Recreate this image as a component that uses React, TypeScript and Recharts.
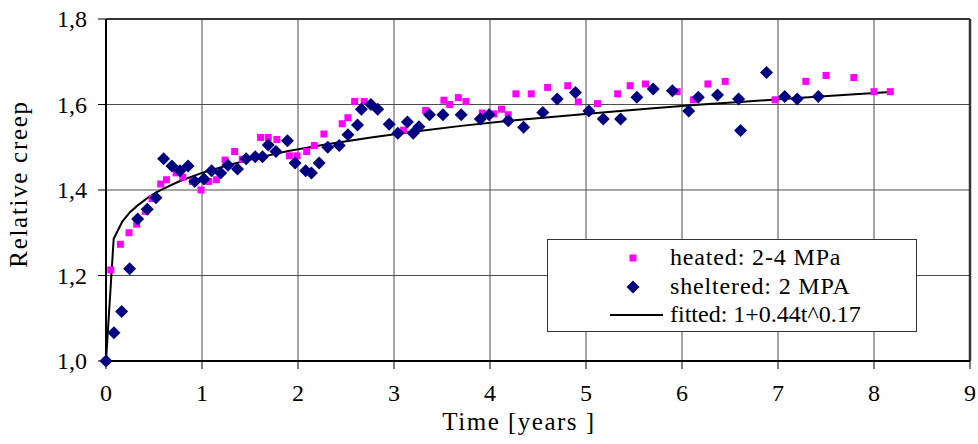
import { ComposedChart, Scatter, Line, XAxis, YAxis, CartesianGrid, ReferenceLine, Label } from 'recharts';

// heated: 2-4 MPa (magenta squares)
const heatedT = [0, 0.05, 0.15, 0.24, 0.32, 0.41, 0.48, 0.57, 0.63, 0.73, 0.8, 0.9, 0.99, 1.07, 1.15, 1.24, 1.34, 1.42, 1.61, 1.69, 1.78, 1.91, 1.99, 2.09, 2.17, 2.27, 2.46, 2.52, 2.59, 2.69, 3.1, 3.33, 3.52, 3.58, 3.67, 3.75, 3.92, 4.04, 4.12, 4.19, 4.27, 4.43, 4.6, 4.81, 4.92, 5.12, 5.33, 5.46, 5.62, 5.95, 6.12, 6.27, 6.45, 6.97, 7.29, 7.5, 7.79, 8.0, 8.17];
const heatedV = [1.0, 1.213, 1.273, 1.3, 1.32, 1.35, 1.38, 1.414, 1.424, 1.44, 1.43, 1.42, 1.4, 1.42, 1.424, 1.47, 1.49, 1.472, 1.523, 1.523, 1.518, 1.48, 1.48, 1.49, 1.504, 1.531, 1.555, 1.569, 1.607, 1.607, 1.54, 1.586, 1.61, 1.6, 1.616, 1.607, 1.58, 1.578, 1.589, 1.576, 1.625, 1.625, 1.64, 1.644, 1.606, 1.602, 1.625, 1.644, 1.648, 1.63, 1.611, 1.648, 1.654, 1.611, 1.654, 1.668, 1.663, 1.63, 1.63];

// sheltered: 2 MPA (navy diamonds)
const shelteredT = [0, 0.083, 0.163, 0.246, 0.33, 0.43, 0.52, 0.6, 0.686, 0.77, 0.855, 0.925, 1.02, 1.1, 1.195, 1.27, 1.37, 1.46, 1.555, 1.63, 1.69, 1.77, 1.89, 1.97, 2.08, 2.14, 2.22, 2.31, 2.43, 2.52, 2.62, 2.66, 2.76, 2.83, 2.95, 3.04, 3.14, 3.2, 3.26, 3.37, 3.51, 3.7, 3.9, 3.99, 4.19, 4.35, 4.55, 4.7, 4.89, 5.03, 5.18, 5.36, 5.53, 5.7, 5.9, 6.07, 6.17, 6.37, 6.59, 6.61, 6.88, 7.07, 7.2, 7.42];
const shelteredV = [1.0, 1.066, 1.116, 1.216, 1.332, 1.355, 1.382, 1.473, 1.456, 1.445, 1.456, 1.42, 1.426, 1.445, 1.44, 1.458, 1.449, 1.473, 1.478, 1.478, 1.505, 1.49, 1.515, 1.463, 1.445, 1.44, 1.463, 1.5, 1.504, 1.529, 1.552, 1.589, 1.6, 1.589, 1.554, 1.533, 1.559, 1.533, 1.548, 1.576, 1.576, 1.576, 1.566, 1.576, 1.562, 1.547, 1.581, 1.613, 1.628, 1.585, 1.566, 1.566, 1.617, 1.636, 1.632, 1.585, 1.617, 1.622, 1.613, 1.539, 1.675, 1.619, 1.613, 1.619];

// fitted: 1+0.44t^0.17
const fittedT = [0, 0.08, 0.17, 0.25, 0.33, 0.43, 0.52, 0.6, 0.77, 1.0, 1.27, 1.55, 1.9, 2.3, 2.76, 3.2, 3.7, 4.2, 4.7, 5.2, 5.7, 6.2, 6.6, 7.2, 7.8, 8.17];
const fittedV = [1.0, 1.286, 1.326, 1.348, 1.364, 1.381, 1.394, 1.403, 1.421, 1.44, 1.458, 1.474, 1.491, 1.507, 1.523, 1.536, 1.55, 1.562, 1.572, 1.582, 1.591, 1.6, 1.606, 1.615, 1.624, 1.629];

const xTicks = [0, 1, 2, 3, 4, 5, 6, 7, 8, 9];
const yTicks = [1.0, 1.2, 1.4, 1.6, 1.8];

const heated = heatedT.map((t, i) => ({ t, v: heatedV[i] }));
const sheltered = shelteredT.map((t, i) => ({ t, v: shelteredV[i] }));
const fitted = fittedT.map((t, i) => ({ t, v: fittedV[i] }));

const FONT = "'Liberation Serif', 'Times New Roman', serif";

const Square = (props: any) => {
  const { cx, cy } = props;
  return <rect x={cx - 3.5} y={cy - 3.5} width={7} height={7} fill="#FF00FF" />;
};

const Diamond = (props: any) => {
  const { cx, cy } = props;
  const r = 6.5;
  return <polygon points={`${cx},${cy - r} ${cx + r},${cy} ${cx},${cy + r} ${cx - r},${cy}`} fill="#000080" />;
};

const XTick = (props: any) => {
  const { x, y, payload } = props;
  return (
    <text x={x} y={y} dy={32} textAnchor="middle" fontSize={24} fontFamily={FONT} fill="#000">
      {payload.value}
    </text>
  );
};

const YTick = (props: any) => {
  const { x, y, payload } = props;
  return (
    <text x={x} y={y} dy={8} textAnchor="end" fontSize={24} fontFamily={FONT} fill="#000">
      {Number(payload.value).toFixed(1).replace('.', ',')}
    </text>
  );
};

// legend box drawn over the plot, same spot as the original
const LegendBox = () => (
  <div style={{ position: 'absolute', left: 547, top: 239, width: 370, height: 93, border: '1.5px solid #333', boxSizing: 'border-box', background: '#fff', fontFamily: FONT, fontSize: 24, letterSpacing: 0.85, color: '#000' }}>
    <svg width={370} height={93} style={{ position: 'absolute', left: -1.5, top: -1.5 }}>
      <rect x={82.5} y={15.5} width={7} height={7} fill="#FF00FF" />
      <polygon points="86,41.5 92.5,48 86,54.5 79.5,48" fill="#000080" />
      <line x1={63} y1={76} x2={116} y2={76} stroke="#000" strokeWidth={2} />
    </svg>
    <div style={{ position: 'absolute', left: 122, top: 3, lineHeight: '28.5px', whiteSpace: 'nowrap' }}>
      <div>heated: 2-4 MPa</div>
      <div>sheltered: 2 MPA</div>
      <div style={{ letterSpacing: 0 }}>fitted: 1+0.44t^0.17</div>
    </div>
  </div>
);

const App = () => {
  return (
    <div style={{ position: 'absolute', left: 0, top: 0, width: 978, height: 444, background: '#fff' }}>
      <ComposedChart width={978} height={444} margin={{ top: 19, right: 8, bottom: 0, left: 0 }} style={{ fontFamily: FONT }}>
        <CartesianGrid stroke="#4d4d4d" strokeWidth={1} />
        <XAxis
          dataKey="t"
          type="number"
          domain={[0, 9]}
          ticks={xTicks}
          height={83}
          tickSize={8}
          tickMargin={0}
          tick={<XTick />}
          axisLine={{ stroke: '#000', strokeWidth: 2 }}
          tickLine={{ stroke: '#000' }}
        >
          <Label
            content={() => (
              <text x={519} y={430} textAnchor="middle" fontSize={25} fontFamily={FONT} letterSpacing={1.5} fill="#000">
                Time [years ]
              </text>
            )}
          />
        </XAxis>
        <YAxis
          dataKey="v"
          type="number"
          domain={[1, 1.8]}
          ticks={yTicks}
          width={106}
          tickSize={8}
          tickMargin={11}
          tick={<YTick />}
          axisLine={{ stroke: '#000', strokeWidth: 2 }}
          tickLine={{ stroke: '#000' }}
        >
          <Label
            content={() => (
              <text x={27} y={184} transform="rotate(-90 27 184)" textAnchor="middle" fontSize={25} fontFamily={FONT} letterSpacing={1.7} fill="#000">
                Relative creep
              </text>
            )}
          />
        </YAxis>
        <ReferenceLine y={1.8} stroke="#333" strokeWidth={2} />
        <ReferenceLine x={9} stroke="#333" strokeWidth={2.5} />
        <Scatter data={heated} dataKey="v" shape={<Square />} isAnimationActive={false} />
        <Scatter data={sheltered} dataKey="v" shape={<Diamond />} isAnimationActive={false} />
        <Line data={fitted} dataKey="v" type="linear" stroke="#000" strokeWidth={2} dot={false} isAnimationActive={false} />
      </ComposedChart>
      <LegendBox />
    </div>
  );
};

export default App;
